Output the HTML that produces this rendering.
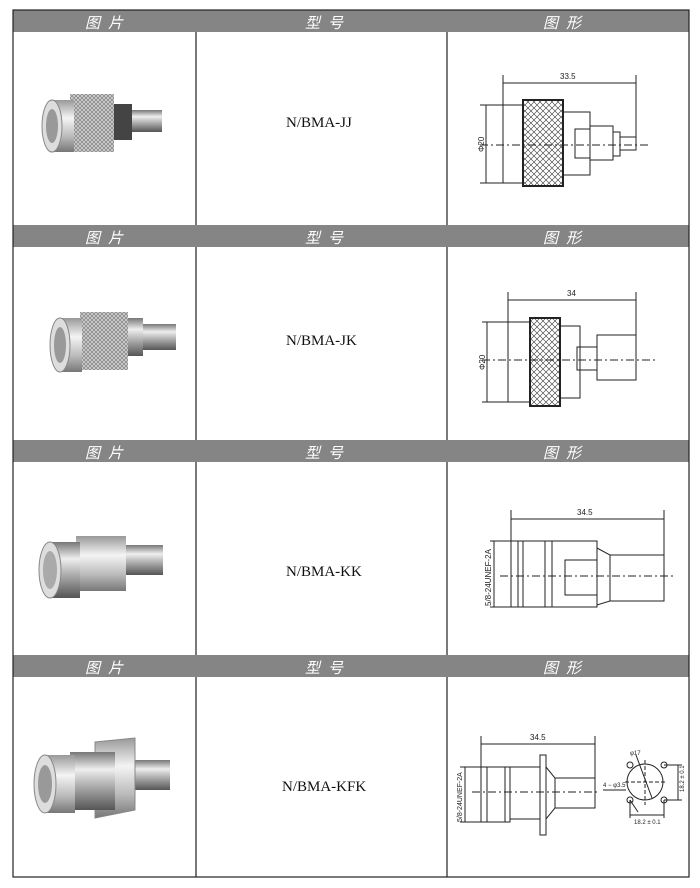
<!DOCTYPE html>
<html><head><meta charset="utf-8"><style>
html,body{margin:0;padding:0;background:#fff;}
body{width:700px;height:888px;position:relative;overflow:hidden;font-family:"Liberation Serif",serif;}
.h{position:absolute;background:#858585;height:22px;}
.h span{position:absolute;top:2px;color:#fff;font-style:italic;font-size:15px;font-family:"Liberation Sans","Noto Sans CJK SC",sans-serif;letter-spacing:8px;}
.m{position:absolute;font-size:15px;color:#111;}
svg{position:absolute;left:0;top:0;}
</style></head><body>
<div class="h" style="left:13px;top:10px;width:676px"><span style="left:72px">图片</span><span style="left:292px">型号</span><span style="left:530px">图形</span></div>
<div class="h" style="left:13px;top:225px;width:676px"><span style="left:72px">图片</span><span style="left:292px">型号</span><span style="left:530px">图形</span></div>
<div class="h" style="left:13px;top:440px;width:676px"><span style="left:72px">图片</span><span style="left:292px">型号</span><span style="left:530px">图形</span></div>
<div class="h" style="left:13px;top:655px;width:676px"><span style="left:72px">图片</span><span style="left:292px">型号</span><span style="left:530px">图形</span></div>
<div class="m" style="left:286px;top:115px">N/BMA-JJ</div>
<div class="m" style="left:286px;top:333px">N/BMA-JK</div>
<div class="m" style="left:286px;top:564px">N/BMA-KK</div>
<div class="m" style="left:282px;top:779px">N/BMA-KFK</div>
<svg width="700" height="888" viewBox="0 0 700 888">
<defs>
<linearGradient id="g" x1="0" y1="0" x2="0" y2="1"><stop offset="0" stop-color="#777"/><stop offset=".3" stop-color="#eee"/><stop offset=".6" stop-color="#aaa"/><stop offset="1" stop-color="#555"/></linearGradient>
<linearGradient id="g2" x1="0" y1="0" x2="0" y2="1"><stop offset="0" stop-color="#999"/><stop offset=".35" stop-color="#f4f4f4"/><stop offset=".7" stop-color="#bbb"/><stop offset="1" stop-color="#777"/></linearGradient>
<pattern id="k" width="6" height="6" patternUnits="userSpaceOnUse"><rect width="6" height="6" fill="#fff"/><path d="M0 0L6 6M6 0L0 6" stroke="#333" stroke-width="0.6"/></pattern>
<pattern id="kp" width="4" height="4" patternUnits="userSpaceOnUse"><rect width="4" height="4" fill="#ccc"/><path d="M0 0L4 4M4 0L0 4" stroke="#777" stroke-width="0.6"/></pattern>
</defs>
<g stroke="#222" stroke-width="1.2" fill="none">
<rect x="13" y="10" width="676" height="867"/>
<line x1="196" y1="32" x2="196" y2="225"/><line x1="447" y1="32" x2="447" y2="225"/>
<line x1="196" y1="247" x2="196" y2="440"/><line x1="447" y1="247" x2="447" y2="440"/>
<line x1="196" y1="462" x2="196" y2="655"/><line x1="447" y1="462" x2="447" y2="655"/>
<line x1="196" y1="677" x2="196" y2="877"/><line x1="447" y1="677" x2="447" y2="877"/>
</g>
<g>
<rect x="130" y="110" width="32" height="22" fill="url(#g)"/>
<rect x="110" y="104" width="22" height="36" fill="#444"/>
<rect x="70" y="94" width="44" height="58" fill="url(#kp)"/>
<rect x="52" y="100" width="22" height="52" fill="url(#g2)"/>
<ellipse cx="52" cy="126" rx="10" ry="26" fill="#ddd" stroke="#888"/>
<ellipse cx="52" cy="126" rx="6" ry="17" fill="#999"/>
</g>
<g>
<rect x="140" y="324" width="36" height="26" fill="url(#g)"/>
<rect x="125" y="318" width="18" height="38" fill="url(#g)"/>
<rect x="80" y="312" width="48" height="58" fill="url(#kp)"/>
<rect x="60" y="318" width="22" height="54" fill="url(#g2)"/>
<ellipse cx="60" cy="345" rx="10" ry="27" fill="#ddd" stroke="#888"/>
<ellipse cx="60" cy="345" rx="6" ry="18" fill="#999"/>
</g>
<g>
<rect x="123" y="545" width="40" height="30" fill="url(#g)"/>
<rect x="76" y="536" width="50" height="55" fill="url(#g2)"/>
<rect x="50" y="542" width="30" height="56" fill="url(#g)"/>
<ellipse cx="50" cy="570" rx="11" ry="28" fill="#ddd" stroke="#888"/>
<ellipse cx="50" cy="570" rx="7" ry="19" fill="#aaa"/>
</g>
<g>
<rect x="130" y="760" width="40" height="30" fill="url(#g)"/>
<polygon points="95,742 135,738 135,810 95,818" fill="url(#g2)" stroke="#888"/>
<rect x="70" y="752" width="45" height="58" fill="url(#g)"/>
<rect x="45" y="755" width="30" height="58" fill="url(#g2)"/>
<ellipse cx="45" cy="784" rx="11" ry="29" fill="#ddd" stroke="#888"/>
<ellipse cx="45" cy="784" rx="7" ry="19" fill="#999"/>
</g>
<g stroke="#222" stroke-width="1" fill="none" font-family="Liberation Sans,sans-serif">
<line x1="503" y1="75" x2="503" y2="105"/><line x1="636" y1="75" x2="636" y2="140"/>
<line x1="503" y1="83" x2="636" y2="83"/>
<line x1="480" y1="105" x2="503" y2="105"/><line x1="480" y1="183" x2="503" y2="183"/><line x1="486" y1="105" x2="486" y2="183"/>
<rect x="503" y="105" width="20" height="78" fill="#fff"/>
<rect x="523" y="100" width="40" height="86" fill="url(#k)" stroke-width="2"/>
<rect x="563" y="112" width="27" height="63"/>
<rect x="575" y="129" width="15" height="29"/>
<rect x="590" y="126" width="23" height="34"/>
<rect x="613" y="132" width="7" height="24"/>
<rect x="620" y="137" width="16" height="13"/>
<line x1="480" y1="145" x2="650" y2="145" stroke-dasharray="8 3 2 3"/>
<line x1="508" y1="292" x2="508" y2="322"/><line x1="636" y1="292" x2="636" y2="340"/>
<line x1="508" y1="300" x2="636" y2="300"/>
<line x1="482" y1="322" x2="508" y2="322"/><line x1="482" y1="402" x2="508" y2="402"/><line x1="487" y1="322" x2="487" y2="402"/>
<rect x="508" y="322" width="22" height="80"/>
<rect x="530" y="318" width="30" height="88" fill="url(#k)" stroke-width="2"/>
<rect x="560" y="326" width="20" height="72"/>
<rect x="577" y="347" width="20" height="23"/>
<rect x="597" y="335" width="39" height="45"/>
<line x1="482" y1="360" x2="655" y2="360" stroke-dasharray="8 3 2 3"/>
<line x1="511" y1="510" x2="511" y2="541"/><line x1="664" y1="510" x2="664" y2="560"/>
<line x1="511" y1="519" x2="664" y2="519"/>
<line x1="490" y1="541" x2="511" y2="541"/><line x1="490" y1="607" x2="511" y2="607"/><line x1="494" y1="541" x2="494" y2="607"/>
<rect x="511" y="541" width="41" height="66"/>
<line x1="518" y1="541" x2="518" y2="607"/><line x1="523" y1="541" x2="523" y2="607"/><line x1="545" y1="541" x2="545" y2="607"/>
<rect x="552" y="541" width="45" height="66"/>
<rect x="565" y="560" width="32" height="35"/>
<polygon points="597,548 610,555 610,601 597,605"/>
<rect x="610" y="555" width="54" height="46"/>
<line x1="500" y1="576" x2="675" y2="576" stroke-dasharray="8 3 2 3"/>
<line x1="481" y1="736" x2="481" y2="767"/><line x1="595" y1="736" x2="595" y2="790"/>
<line x1="481" y1="744" x2="595" y2="744"/>
<line x1="460" y1="767" x2="481" y2="767"/><line x1="460" y1="822" x2="481" y2="822"/><line x1="465" y1="767" x2="465" y2="822"/>
<rect x="481" y="767" width="29" height="55"/>
<line x1="487" y1="767" x2="487" y2="822"/><line x1="505" y1="767" x2="505" y2="822"/>
<rect x="510" y="767" width="30" height="52"/>
<rect x="540" y="755" width="6" height="80"/>
<polygon points="546,767 555,778 555,808 546,819"/>
<rect x="555" y="778" width="40" height="30"/>
<line x1="472" y1="792" x2="600" y2="792" stroke-dasharray="8 3 2 3"/>
<circle cx="645" cy="782" r="18"/>
<circle cx="630" cy="765" r="3"/><circle cx="664" cy="765" r="3"/><circle cx="630" cy="800" r="3"/><circle cx="664" cy="800" r="3"/>
<line x1="625" y1="782" x2="665" y2="782" stroke-dasharray="4 2"/><line x1="645" y1="760" x2="645" y2="805" stroke-dasharray="4 2"/>
<line x1="636" y1="755" x2="652" y2="798"/>
<line x1="630" y1="815" x2="664" y2="815"/><line x1="630" y1="800" x2="630" y2="818"/><line x1="664" y1="800" x2="664" y2="818"/>
<line x1="678" y1="765" x2="678" y2="800"/><line x1="664" y1="765" x2="682" y2="765"/><line x1="664" y1="800" x2="682" y2="800"/>
<line x1="603" y1="790" x2="626" y2="790"/><line x1="630" y1="800" x2="638" y2="812"/>
</g>
<g font-family="Liberation Sans,sans-serif" font-size="8" fill="#222">
<text x="560" y="79">33.5</text>
<text x="567" y="296">34</text>
<text x="577" y="515">34.5</text>
<text x="530" y="740">34.5</text>
<text x="630" y="755" font-size="6">φ17</text>
<text x="603" y="787" font-size="6">4 − φ3.5</text>
<text x="634" y="824" font-size="6">18.2 ± 0.1</text>
<text transform="translate(684,792) rotate(-90)" font-size="6">18.2 ± 0.1</text>
<text transform="translate(484,152) rotate(-90)">Φ20</text>
<text transform="translate(485,370) rotate(-90)">Φ20</text>
<text transform="translate(491,606) rotate(-90)">5/8-24UNEF-2A</text>
<text transform="translate(462,822) rotate(-90)" font-size="7">5/8-24UNEF-2A</text>
</g>
</svg>
</body></html>
